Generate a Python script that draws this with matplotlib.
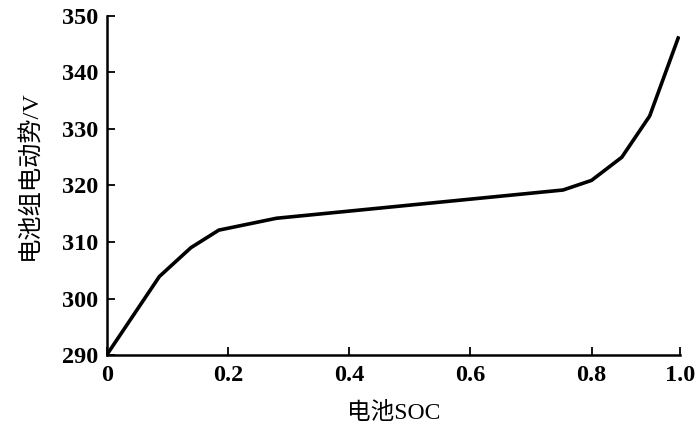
import matplotlib
matplotlib.use('Agg')
from matplotlib import pyplot as plt

# SOC positions (the "1.0" tick sits at ~0.946 in axis units)
soc = [0.0, 0.087, 0.139, 0.185, 0.280, 0.753, 0.800, 0.850, 0.896, 0.943]
emf = [290.0, 303.9, 309.0, 312.1, 314.2, 319.2, 320.9, 325.0, 332.3, 346.1]

xtick_pos = [0.0, 0.2, 0.4, 0.6, 0.8, 0.946]
xtick_labels = ['0', '0.2', '0.4', '0.6', '0.8', '1.0']
ytick_pos = [290, 300, 310, 320, 330, 340, 350]

fams = ['Liberation Serif', 'Noto Sans CJK SC', 'DejaVu Sans']
plt.rcParams['font.family'] = fams

fig = plt.figure(figsize=(7, 4.33), dpi=100)
ax = fig.add_axes([0.1524, 0.1801, 0.819, 0.783])

ax.plot(soc, emf, color='black', linewidth=2.6, solid_joinstyle='miter')

ax.set_xlim(0, 0.946)
ax.set_ylim(290, 350)
ax.set_xticks(xtick_pos)
ax.set_xticklabels(xtick_labels)
ax.set_yticks(ytick_pos)

for side in ['top', 'right']:
	ax.spines[side].set_visible(False)
for side in ['left', 'bottom']:
	ax.spines[side].set_linewidth(1.8)

ax.tick_params(direction='in', length=5.5, width=1.3, labelsize=17.5)
ax.tick_params(axis='y', pad=6)
ax.tick_params(axis='x', pad=7)
for lab in ax.get_xticklabels() + ax.get_yticklabels():
	lab.set_fontweight('bold')

ax.set_xlabel('电池SOC', fontsize=17, labelpad=12)
ax.set_ylabel('电池组电动势/V', fontsize=17.5)
ax.yaxis.set_label_coords(-0.115, 0.53)

fig.savefig('out.png', dpi=100)
